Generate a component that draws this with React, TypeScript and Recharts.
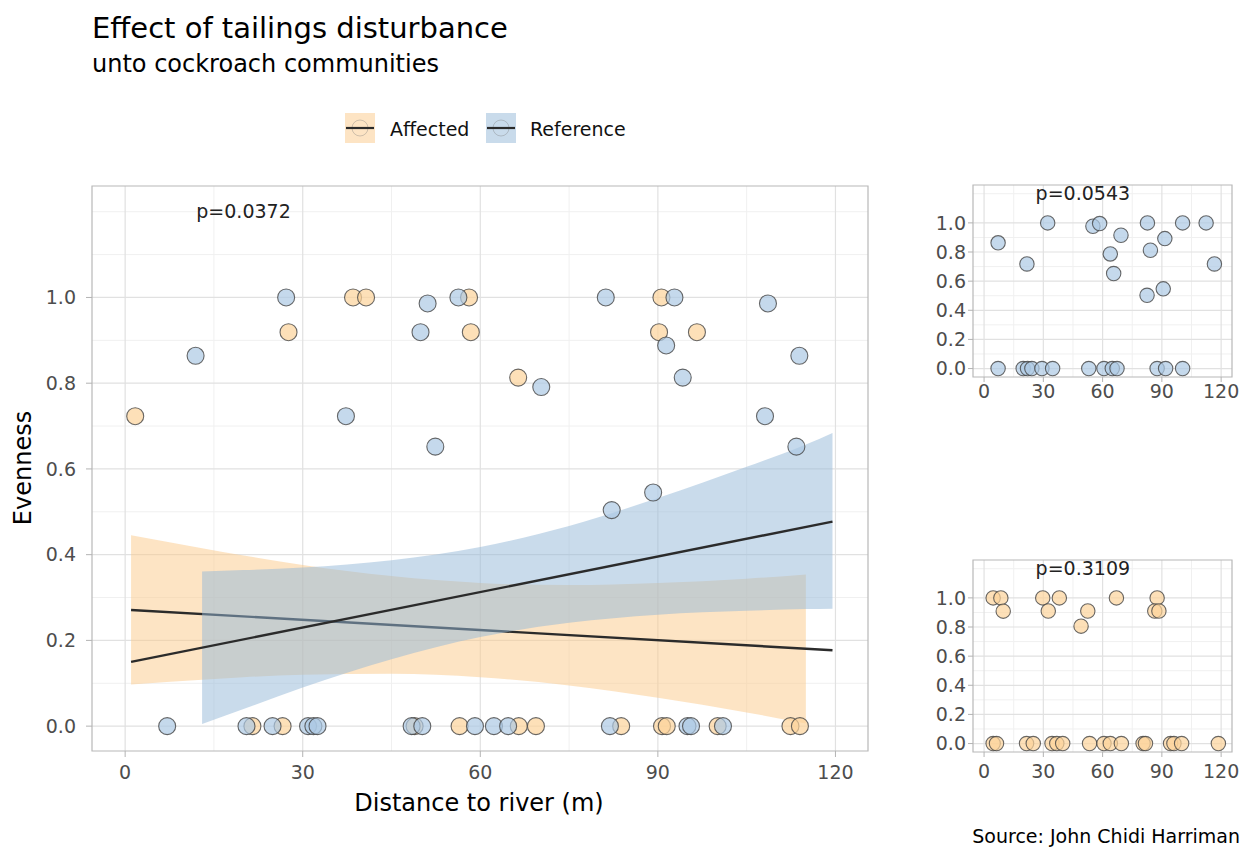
import React from "react";
import {
  ComposedChart,
  ScatterChart,
  Scatter,
  Area,
  Line,
  XAxis,
  YAxis,
  CartesianGrid,
  ReferenceArea,
  ReferenceDot,
} from "recharts";

// ---- data ----

// main panel, points (distance m, evenness)
const affectedMain = [
  { x: 1.7, y: 0.723 }, { x: 27.6, y: 0.919 }, { x: 38.5, y: 1.0 }, { x: 40.7, y: 1.0 },
  { x: 58.1, y: 1.0 }, { x: 58.4, y: 0.919 }, { x: 66.4, y: 0.813 }, { x: 90.6, y: 1.0 },
  { x: 90.2, y: 0.919 }, { x: 96.6, y: 0.919 },
  { x: 21.5, y: 0 }, { x: 26.6, y: 0 }, { x: 48.9, y: 0 }, { x: 56.5, y: 0 }, { x: 66.5, y: 0 },
  { x: 69.4, y: 0 }, { x: 83.8, y: 0 }, { x: 90.7, y: 0 }, { x: 91.5, y: 0 },
  { x: 100.1, y: 0 }, { x: 112.4, y: 0 }, { x: 114.0, y: 0 },
];

const referenceMain = [
  { x: 11.9, y: 0.864 }, { x: 27.2, y: 1.0 }, { x: 37.3, y: 0.723 }, { x: 49.9, y: 0.919 },
  { x: 51.1, y: 0.986 }, { x: 52.4, y: 0.652 }, { x: 56.3, y: 1.0 }, { x: 70.3, y: 0.791 },
  { x: 81.2, y: 1.0 }, { x: 82.2, y: 0.504 }, { x: 89.2, y: 0.545 }, { x: 91.4, y: 0.888 },
  { x: 92.8, y: 1.0 }, { x: 94.2, y: 0.813 }, { x: 108.1, y: 0.723 }, { x: 108.6, y: 0.986 },
  { x: 113.4, y: 0.652 }, { x: 113.9, y: 0.864 },
  { x: 7.1, y: 0 }, { x: 20.5, y: 0 }, { x: 24.9, y: 0 }, { x: 30.9, y: 0 }, { x: 31.8, y: 0 },
  { x: 32.5, y: 0 }, { x: 48.4, y: 0 }, { x: 50.2, y: 0 }, { x: 59.1, y: 0 }, { x: 62.3, y: 0 },
  { x: 64.7, y: 0 }, { x: 81.9, y: 0 }, { x: 95.0, y: 0 }, { x: 95.6, y: 0 }, { x: 101.0, y: 0 },
];

// fitted lines + 95% bands (read at a few distances)
const bandX = [1, 13, 20, 30, 45, 60, 75, 90, 105, 115, 119.5];
const affLow = [0.097, 0.108, 0.114, 0.12, 0.122, 0.114, 0.095, 0.066, 0.032, 0.006, null];
const affHigh = [0.445, 0.415, 0.398, 0.376, 0.35, 0.334, 0.329, 0.334, 0.344, 0.354, null];
const refLow = [null, 0.005, 0.04, 0.09, 0.156, 0.208, 0.241, 0.26, 0.269, 0.273, 0.274];
const refHigh = [null, 0.361, 0.364, 0.37, 0.387, 0.418, 0.467, 0.532, 0.605, 0.657, 0.684];
const affFit = [0.271, null, null, null, null, null, null, null, null, null, 0.177];
const refFit = [0.15, null, null, null, null, null, null, null, null, null, 0.477];

// side panels
const referenceSide = [
  { x: 7.1, y: 0.863 }, { x: 21.7, y: 0.718 }, { x: 32.2, y: 1.0 }, { x: 55.1, y: 0.977 },
  { x: 58.5, y: 0.995 }, { x: 63.9, y: 0.787 }, { x: 65.6, y: 0.652 }, { x: 69.3, y: 0.915 },
  { x: 82.7, y: 1.0 }, { x: 84.2, y: 0.812 }, { x: 82.5, y: 0.503 }, { x: 91.5, y: 0.892 },
  { x: 90.7, y: 0.547 }, { x: 100.5, y: 1.0 }, { x: 112.4, y: 1.0 }, { x: 116.6, y: 0.718 },
  { x: 7.1, y: 0 }, { x: 19.8, y: 0 }, { x: 22.0, y: 0 }, { x: 24.2, y: 0 }, { x: 29.3, y: 0 },
  { x: 34.7, y: 0 }, { x: 53.0, y: 0 }, { x: 60.7, y: 0 }, { x: 64.9, y: 0 }, { x: 67.3, y: 0 },
  { x: 87.6, y: 0 }, { x: 91.9, y: 0 }, { x: 100.5, y: 0 },
];

const affectedSide = [
  { x: 4.6, y: 1.0 }, { x: 8.5, y: 1.0 }, { x: 9.7, y: 0.909 }, { x: 29.7, y: 1.0 },
  { x: 32.5, y: 0.91 }, { x: 38.1, y: 1.0 }, { x: 49.1, y: 0.806 }, { x: 52.5, y: 0.91 },
  { x: 67.0, y: 1.0 }, { x: 87.6, y: 1.0 }, { x: 86.4, y: 0.91 }, { x: 88.5, y: 0.91 },
  { x: 4.6, y: 0 }, { x: 6.3, y: 0 }, { x: 21.5, y: 0 }, { x: 24.9, y: 0 }, { x: 34.4, y: 0 },
  { x: 36.8, y: 0 }, { x: 39.8, y: 0 }, { x: 53.4, y: 0 }, { x: 60.7, y: 0 }, { x: 63.9, y: 0 },
  { x: 69.5, y: 0 }, { x: 80.5, y: 0 }, { x: 81.7, y: 0 }, { x: 94.4, y: 0 }, { x: 96.1, y: 0 },
  { x: 100.0, y: 0 }, { x: 118.6, y: 0 },
];

const xTicks = [0, 30, 60, 90, 120];
const yTicks = [0, 0.2, 0.4, 0.6, 0.8, 1.0];
const xMinor = [15, 45, 75, 105];
const yMinor = [0.1, 0.3, 0.5, 0.7, 0.9, 1.1, 1.2];
const X_DOMAIN = [-5.6, 125.5];
const Y_DOMAIN = [-0.058, 1.26];

const FONT = "'DejaVu Sans', Verdana, sans-serif";
const ORANGE_PT = "#fcd39a";
const BLUE_PT = "#acc9e4";
const ORANGE_BAND = "#fbc989";
const BLUE_BAND = "#93b7d7";

const table = bandX.map((x, i) => ({
  x,
  aff: affLow[i] == null ? null : [affLow[i], affHigh[i]],
  ref: refLow[i] == null ? null : [refLow[i], refHigh[i]],
  affFit: affFit[i],
  refFit: refFit[i],
}));

const tickStyle = { fill: "#4d4d4d", fontSize: 19, fontFamily: FONT };

function Dot(r: number, fill: string) {
  return (p: any) => (
    <circle
      cx={p.cx}
      cy={p.cy}
      r={r}
      fill={fill}
      fillOpacity={0.7}
      stroke="#444"
      strokeOpacity={0.8}
      strokeWidth={1.1}
    />
  );
}

function grids() {
  return [
    <CartesianGrid key="mi" stroke="#f0f0f0" strokeWidth={1} horizontalValues={yMinor} verticalValues={xMinor} />,
    <CartesianGrid key="ma" stroke="#e1e1e1" strokeWidth={1.2} horizontalValues={yTicks} verticalValues={xTicks} />,
  ];
}

function PLabel({ x, text }: { x: number; text: string }) {
  return (
    <ReferenceDot
      x={x}
      y={1.2}
      r={0}
      fill="none"
      stroke="none"
      label={{ value: text, position: "center", fill: "#222", fontSize: 19, fontFamily: FONT }}
    />
  );
}

function SidePanel({
  data,
  fill,
  p,
  top,
  tickMargin,
}: {
  data: { x: number; y: number }[];
  fill: string;
  p: string;
  top: number;
  tickMargin: number;
}) {
  return (
    <div style={{ position: "absolute", left: 920, top }}>
      <ScatterChart width={329} height={237} margin={{ top: 10, right: 17, left: 0, bottom: 0 }}>
        {grids()}
        <XAxis
          type="number"
          dataKey="x"
          domain={X_DOMAIN}
          ticks={xTicks}
          allowDataOverflow
          axisLine={false}
          tickLine={{ stroke: "#b3b3b3" }}
          tickSize={5}
          tickMargin={tickMargin}
          tick={tickStyle}
          height={35}
        />
        <YAxis
          type="number"
          domain={Y_DOMAIN}
          ticks={yTicks}
          allowDataOverflow
          axisLine={false}
          tickLine={{ stroke: "#b3b3b3" }}
          tickSize={5}
          tickMargin={2}
          tick={tickStyle}
          tickFormatter={(v: number) => v.toFixed(1)}
          width={53}
        />
        <ReferenceArea x1={X_DOMAIN[0]} x2={X_DOMAIN[1]} y1={Y_DOMAIN[0]} y2={Y_DOMAIN[1]} fill="none" stroke="#b8b8b8" strokeWidth={1.2} />
        <Scatter data={data} dataKey="y" shape={Dot(7.2, fill)} isAnimationActive={false} />
        <PLabel x={50} text={p} />
      </ScatterChart>
    </div>
  );
}

export default function App() {
  return (
    <div style={{ position: "absolute", left: 0, top: 0, width: 1249, height: 852, background: "#fff", fontFamily: FONT }}>
      <svg width={1249} height={852} style={{ position: "absolute", left: 0, top: 0 }}>
        <text x={92} y={38} fontSize={29} fill="#000" fontFamily={FONT}>Effect of tailings disturbance</text>
        <text x={92} y={72} fontSize={24} fill="#000" fontFamily={FONT}>unto cockroach communities</text>

        <rect x={345} y={113} width={30} height={30} fill="#fde4c4" />
        <circle cx={360} cy={128} r={8} fill="none" stroke="#777" strokeOpacity={0.35} />
        <line x1={346} x2={374} y1={128} y2={128} stroke="#2b2b2b" strokeWidth={2.2} />
        <text x={390} y={136} fontSize={19} fill="#111" fontFamily={FONT}>Affected</text>

        <rect x={486} y={113} width={30} height={30} fill="#c9dbeb" />
        <circle cx={501} cy={128} r={8} fill="none" stroke="#777" strokeOpacity={0.35} />
        <line x1={487} x2={515} y1={128} y2={128} stroke="#2b2b2b" strokeWidth={2.2} />
        <text x={530} y={136} fontSize={19} fill="#111" fontFamily={FONT}>Reference</text>

        <text x={31} y={468} fontSize={24} fill="#000" fontFamily={FONT} textAnchor="middle" transform="rotate(-90 31 468)">Evenness</text>
        <text x={479} y={811} fontSize={24} fill="#000" fontFamily={FONT} textAnchor="middle">Distance to river (m)</text>
        <text x={1240} y={843} fontSize={19} fill="#000" fontFamily={FONT} textAnchor="end">Source: John Chidi Harriman</text>
      </svg>

      <div style={{ position: "absolute", left: 0, top: 176 }}>
        <ComposedChart width={880} height={615} data={table} margin={{ top: 10, right: 12, left: 0, bottom: 0 }}>
          {grids()}
          <XAxis
            type="number"
            dataKey="x"
            domain={X_DOMAIN}
            ticks={xTicks}
            allowDataOverflow
            axisLine={false}
            tickLine={{ stroke: "#b3b3b3" }}
            tickSize={6}
            tickMargin={9}
            tick={tickStyle}
            height={40}
          />
          <YAxis
            type="number"
            domain={Y_DOMAIN}
            ticks={yTicks}
            allowDataOverflow
            axisLine={false}
            tickLine={{ stroke: "#b3b3b3" }}
            tickSize={6}
            tickMargin={10}
            tick={tickStyle}
            tickFormatter={(v: number) => v.toFixed(1)}
            width={92}
          />
          <ReferenceArea x1={X_DOMAIN[0]} x2={X_DOMAIN[1]} y1={Y_DOMAIN[0]} y2={Y_DOMAIN[1]} fill="none" stroke="#b8b8b8" strokeWidth={1.2} />
          <Area dataKey="aff" type="monotone" fill={ORANGE_BAND} fillOpacity={0.5} stroke="none" isAnimationActive={false} />
          <Line dataKey="affFit" connectNulls dot={false} stroke="#2b2b2b" strokeWidth={2.4} isAnimationActive={false} zIndex={100} />
          <Area dataKey="ref" type="monotone" fill={BLUE_BAND} fillOpacity={0.5} stroke="none" isAnimationActive={false} zIndex={100} />
          <Line dataKey="refFit" connectNulls dot={false} stroke="#2b2b2b" strokeWidth={2.4} isAnimationActive={false} />
          <Scatter data={affectedMain} dataKey="y" shape={Dot(8.5, ORANGE_PT)} isAnimationActive={false} />
          <Scatter data={referenceMain} dataKey="y" shape={Dot(8.5, BLUE_PT)} isAnimationActive={false} />
          <PLabel x={20} text="p=0.0372" />
        </ComposedChart>
      </div>

      <SidePanel data={referenceSide} fill={BLUE_PT} p="p=0.0543" top={175} tickMargin={3} />
      <SidePanel data={affectedSide} fill={ORANGE_PT} p="p=0.3109" top={550} tickMargin={8} />
    </div>
  );
}
